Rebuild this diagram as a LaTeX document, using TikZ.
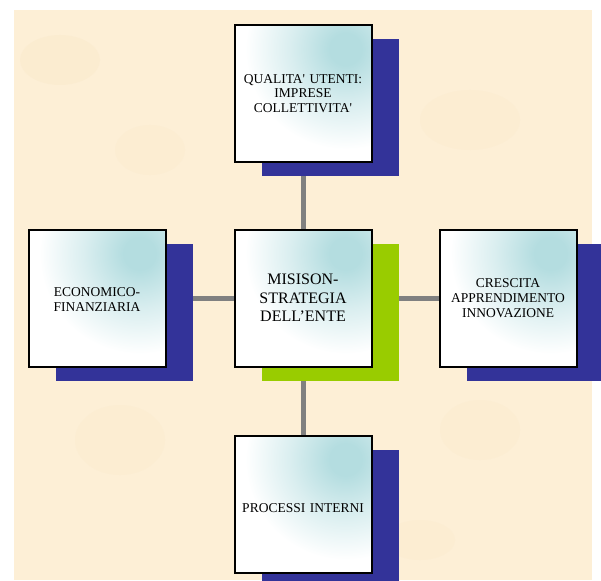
\documentclass[tikz,border=0pt]{standalone}
\usepackage{fontspec}
\setmainfont{Liberation Serif}
\definecolor{bgbeige}{HTML}{FDEFD6}
\definecolor{bgspot}{HTML}{F8E5C2}
\definecolor{shblue}{HTML}{333399}
\definecolor{shgreen}{HTML}{99CC00}
\definecolor{conngray}{HTML}{808080}
\definecolor{tealc}{HTML}{B4DDE0}
\pgfdeclareradialshading{tealblob}{\pgfpointorigin}{color(0bp)=(tealc); color(16bp)=(tealc); color(55bp)=(tealc!50!white); color(100bp)=(white); color(140bp)=(white)}
\pgfdeclarelayer{back}
\pgfdeclarelayer{lines}
\pgfdeclarelayer{shadows}
\pgfsetlayers{back,lines,shadows,main}
\tikzset{
  card/.style={draw=black, line width=2pt, fill=white, minimum width=137pt, minimum height=137pt, inner sep=2pt, outer sep=0pt, align=center, text width=133pt, font=\fontsize{13.5}{14.8}\selectfont,
    path picture={\pgftext[at={\pgfpointadd{\pgfpointanchor{path picture bounding box}{north east}}{\pgfpoint{-26pt}{-24pt}}}]{\pgfuseshading{tealblob}}}},
  bigcard/.style={card, font=\fontsize{16}{18.5}\selectfont},
  conn/.style={draw=conngray, line width=5pt},
}
\begin{document}
\begin{tikzpicture}[x=1pt,y=-1pt]
\useasboundingbox (0,0) rectangle (601,580);
\node[card] (top) at (303,93.5) {QUALITA\textquotesingle{} UTENTI:\\IMPRESE\\COLLETTIVITA\textquotesingle};
\node[card, text depth=11pt] (left) at (97,298) {ECONOMICO-\\FINANZIARIA};
\node[bigcard] (mid) at (303,298) {MISISON-\\STRATEGIA\\DELL’ENTE};
\node[card] (right) at (508,298) {CRESCITA\\APPRENDIMENTO\\INNOVAZIONE};
\node[card, text height=17pt] (bottom) at (303,504) {PROCESSI INTERNI};
\begin{pgfonlayer}{back}
  \fill[bgbeige] (14,10) rectangle (592,580);
  \fill[bgspot, opacity=0.25] (60,60) ellipse (40 and 25);
  \fill[bgspot, opacity=0.2] (470,120) ellipse (50 and 30);
  \fill[bgspot, opacity=0.2] (120,440) ellipse (45 and 35);
  \fill[bgspot, opacity=0.2] (480,430) ellipse (40 and 30);
  \fill[bgspot, opacity=0.2] (150,150) ellipse (35 and 25);
  \fill[bgspot, opacity=0.2] (420,540) ellipse (35 and 20);
\end{pgfonlayer}
\begin{pgfonlayer}{lines}
  \draw[conn] (top) -- (mid);
  \draw[conn] (mid) -- (bottom);
  \draw[conn] (left) -- (mid);
  \draw[conn] (mid) -- (right);
\end{pgfonlayer}
\begin{pgfonlayer}{shadows}
  \foreach \n in {top,left,right,bottom}{
    \fill[shblue] ([shift={(27,14)}]\n.south west) rectangle ([shift={(27,14)}]\n.north east);
  }
  \fill[shgreen] ([shift={(27,14)}]mid.south west) rectangle ([shift={(27,14)}]mid.north east);
\end{pgfonlayer}
\end{tikzpicture}
\end{document}
